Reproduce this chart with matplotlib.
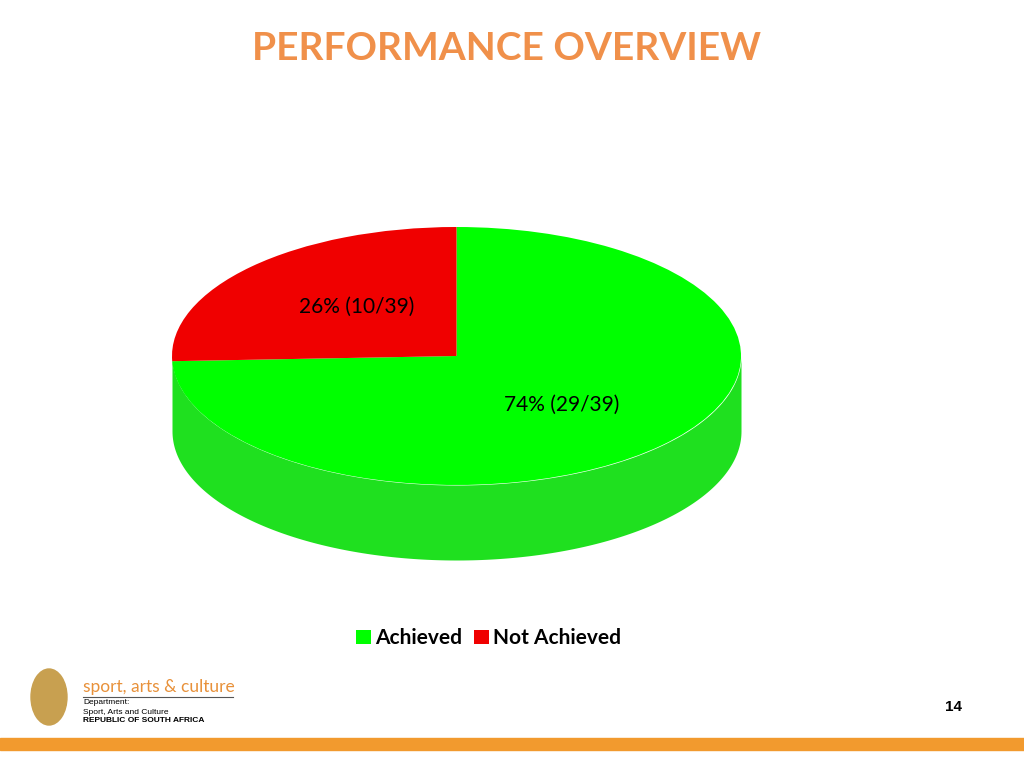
import numpy as np
import matplotlib.pyplot as plt
from matplotlib.patches import Rectangle, Ellipse

categories = ['Achieved', 'Not Achieved']
counts = [29, 39 - 29]
labels = ['74% (29/39)', '26% (10/39)']
colors = ['#00FF00', '#F00000']
side_color = '#1FE01F'

fig = plt.figure(figsize=(10.24, 7.68), dpi=100)
fig.patch.set_facecolor('white')

fig.text(0.495, 0.937, 'PERFORMANCE OVERVIEW', ha='center', va='center',
         fontsize=28, fontweight='bold', color='#F0904A', family='Lato')

# pie axes: top face ellipse 172..741 x, 227..485 y (px); depth 75 px
depth = 75 / 129
ax = fig.add_axes([172 / 1024, 1 - 560 / 768, 569 / 1024, 333 / 768])
wedges, _ = ax.pie(counts, colors=colors, startangle=90, counterclock=False,
                   wedgeprops=dict(linewidth=0))
for w in wedges:
    w.set_zorder(3)
t = np.linspace(np.pi, 2 * np.pi, 200)
ax.fill_between(np.cos(t), np.sin(t), np.sin(t) - depth, color=side_color,
                linewidth=0, zorder=1)
ax.set_aspect('auto')
ax.set_xlim(-1, 1)
ax.set_ylim(-1 - depth, 1)
ax.axis('off')

ax.text(0.37, -0.38, labels[0], ha='center', va='center', fontsize=15,
        family='Lato', zorder=5)
ax.text(-0.35, 0.38, labels[1], ha='center', va='center', fontsize=15,
        family='Lato', zorder=5)

fig.legend(wedges, categories, loc='center', bbox_to_anchor=(0.477, 0.169),
           ncol=2, frameon=False, handlelength=0.7, handleheight=0.7,
           handletextpad=0.2, columnspacing=0.6,
           prop=dict(family='Lato', weight='bold', size=15))

# footer
fig.text(953 / 1024, 1 - 707 / 768, '14', ha='center', va='center',
         fontsize=11, fontweight='bold', family='Liberation Sans')
fig.text(83 / 1024, 1 - 687 / 768, 'sport, arts & culture', ha='left',
         va='center', fontsize=12.5, color='#E8913A', family='Lato')
fig.add_artist(plt.Line2D([83 / 1024, 233 / 1024], [1 - 697 / 768] * 2,
                          color='#555555', lw=0.8))
fig.text(83 / 1024, 1 - 703 / 768, 'Department:', fontsize=6, va='center',
         family='Liberation Sans')
fig.text(83 / 1024, 1 - 712 / 768, 'Sport, Arts and Culture', fontsize=6,
         va='center', family='Liberation Sans')
fig.text(83 / 1024, 1 - 721 / 768, 'REPUBLIC OF SOUTH AFRICA', fontsize=6,
         va='center', fontweight='bold', family='Liberation Sans')
fig.add_artist(Ellipse((49 / 1024, 1 - 697 / 768), 36 / 1024, 56 / 768,
                       color='#C8A050', transform=fig.transFigure))
fig.add_artist(Rectangle((0, 1 - 750 / 768), 1, 12 / 768, color='#F29A2E',
                         transform=fig.transFigure))

fig.savefig('out.png', dpi=100)
